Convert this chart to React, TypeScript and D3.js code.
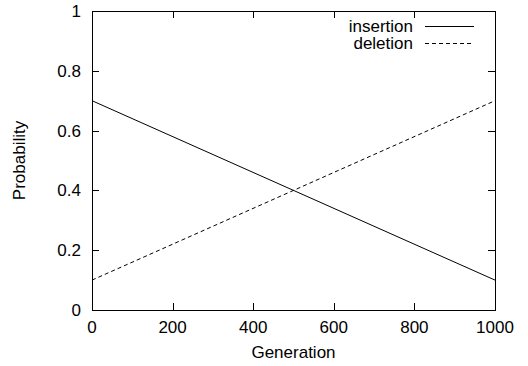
import React, { useRef, useEffect } from 'react';
import * as d3 from 'd3';

const generations = [0, 1000];
const insertion = [0.7, 0.1];
const deletion = [0.1, 0.7];
const xTicks = [0, 200, 400, 600, 800, 1000];
const yTicks = [0, 0.2, 0.4, 0.6, 0.8, 1];
const seriesNames = ['insertion', 'deletion'];

const W = 528, H = 366;
const margin = { left: 92, right: 33, top: 11, bottom: 56 };
const FONT = '"Liberation Sans", Arial, Helvetica, sans-serif';
const FS = 17;

const App = () => {
  const svgRef = useRef<SVGSVGElement | null>(null);

  useEffect(() => {
    const svg = d3.select(svgRef.current);
    svg.selectAll('*').remove();
    const x = d3.scaleLinear().domain([0, 1000]).range([margin.left, W - margin.right]);
    const y = d3.scaleLinear().domain([0, 1]).range([H - margin.bottom, margin.top]);
    const g = svg.append('g');
    const tl = 7;

    // ticks, mirrored on all sides
    xTicks.forEach(t => {
      const px = Math.round(x(t)) + 0.5;
      g.append('line').attr('x1', px).attr('x2', px).attr('y1', y(0)).attr('y2', y(0) - tl).attr('stroke', '#000');
      g.append('line').attr('x1', px).attr('x2', px).attr('y1', y(1)).attr('y2', y(1) + tl).attr('stroke', '#000');
      g.append('text').attr('x', x(t)).attr('y', y(0) + 23).attr('text-anchor', 'middle')
        .attr('font-family', FONT).attr('font-size', FS).text(d3.format('d')(t));
    });
    yTicks.forEach(t => {
      const py = Math.round(y(t)) + 0.5;
      g.append('line').attr('x1', x(0)).attr('x2', x(0) + tl).attr('y1', py).attr('y2', py).attr('stroke', '#000');
      g.append('line').attr('x1', x(1000)).attr('x2', x(1000) - tl).attr('y1', py).attr('y2', py).attr('stroke', '#000');
      g.append('text').attr('x', x(0) - 11).attr('y', y(t) + 6).attr('text-anchor', 'end')
        .attr('font-family', FONT).attr('font-size', FS).text(String(t));
    });

    // border
    g.append('rect').attr('x', x(0) + 0.5).attr('y', y(1) + 0.5)
      .attr('width', x(1000) - x(0)).attr('height', y(0) - y(1))
      .attr('fill', 'none').attr('stroke', '#000');

    const line = d3.line<number>().x((d, i) => x(generations[i])).y(d => y(d));
    const dashes = ['none', '4,3'];
    [insertion, deletion].forEach((s, i) => {
      g.append('path').attr('d', line(s)).attr('fill', 'none').attr('stroke', '#000')
        .attr('stroke-width', 1).attr('stroke-dasharray', dashes[i]);
    });

    // legend
    seriesNames.forEach((n, i) => {
      const ly = 26 + i * 17;
      g.append('text').attr('x', 413).attr('y', ly + 6).attr('text-anchor', 'end')
        .attr('font-family', FONT).attr('font-size', FS).text(n);
      g.append('line').attr('x1', 425).attr('x2', 474).attr('y1', ly + 0.5).attr('y2', ly + 0.5)
        .attr('stroke', '#000').attr('stroke-dasharray', dashes[i]);
    });

    // axis labels
    g.append('text').attr('x', (x(0) + x(1000)) / 2).attr('y', 358).attr('text-anchor', 'middle')
      .attr('font-family', FONT).attr('font-size', FS).text('Generation');
    g.append('text').attr('transform', `translate(25,${(y(0) + y(1)) / 2}) rotate(-90)`)
      .attr('text-anchor', 'middle').attr('font-family', FONT).attr('font-size', FS).text('Probability');
  }, []);

  return (
    <svg ref={svgRef} width={W} height={H}
      style={{ position: 'absolute', left: 0, top: 0, background: '#fff' }} />
  );
};

export default App;
